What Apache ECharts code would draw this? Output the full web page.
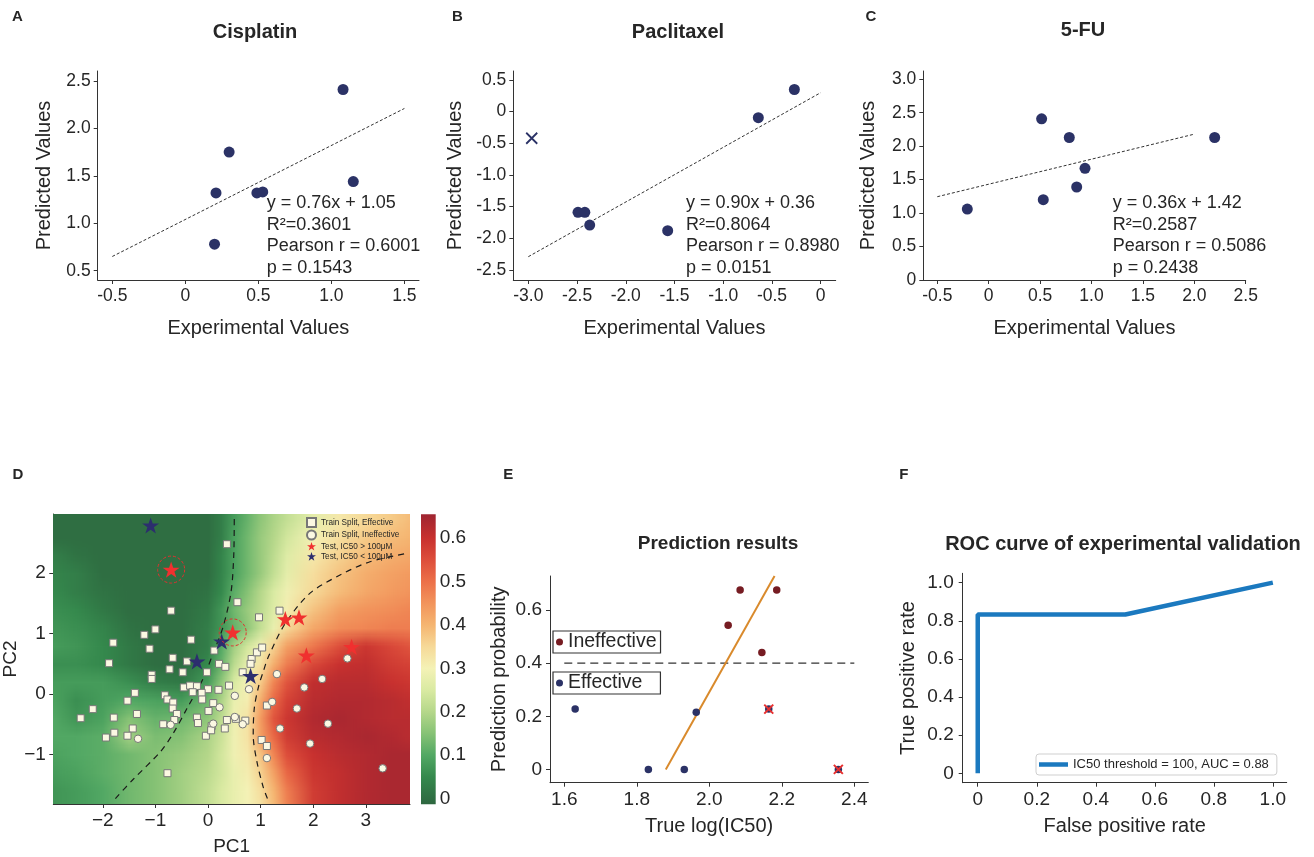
<!DOCTYPE html>
<html><head><meta charset="utf-8">
<script src="https://cdn.jsdelivr.net/npm/echarts@6/dist/echarts.min.js"></script>
<style>html,body{margin:0;padding:0;background:#fff}#c{width:1314px;height:857px}</style>
</head><body><div id="c"></div><script>
// ---------------- DATA ----------------
// Panel A: Cisplatin
const cisExp  = [1.08, 0.30, 0.21, 0.49, 0.53, 1.15, 0.20];
const cisPred = [2.41, 1.75, 1.32, 1.32, 1.33, 1.44, 0.78];
const cisFitX = [-0.5, 1.5];
const cisFitY = [0.65, 2.21];
const cisStats = ['y = 0.76x + 1.05', 'R\u00b2=0.3601', 'Pearson r = 0.6001', 'p = 0.1543'];
// Panel B: Paclitaxel
const pacExp  = [-0.27, -0.64, -2.49, -2.42, -2.37, -1.57];
const pacPred = [0.35, -0.095, -1.59, -1.59, -1.79, -1.88];
const pacOutX = [-2.965];
const pacOutY = [-0.42];
const pacFitX = [-3.0, 0.0];
const pacFitY = [-2.29, 0.30];
const pacStats = ['y = 0.90x + 0.36', 'R\u00b2=0.8064', 'Pearson r = 0.8980', 'p = 0.0151'];
// Panel C: 5-FU
const fuExp  = [0.515, 0.784, 2.198, 0.937, 0.856, 0.531, -0.208];
const fuPred = [2.41, 2.13, 2.13, 1.67, 1.39, 1.20, 1.06];
const fuFitX = [-0.5, 2.0];
const fuFitY = [1.245, 2.18];
const fuStats = ['y = 0.36x + 1.42', 'R\u00b2=0.2587', 'Pearson r = 0.5086', 'p = 0.2438'];

// Panel D: PCA map
const effX = [0.36,0.56,-0.70,0.97,1.36,-1.21,-1.00,-1.80,-1.11,-0.32,-1.88,-0.67,-0.73,-0.40,-0.48,-1.07,-1.07,0.12,0.21,0.33,-0.02,0.66,0.83,0.81,0.93,1.03,-0.46,-0.34,-0.21,-0.29,0.00,0.20,0.40,-1.39,-1.53,-2.19,-2.42,-1.35,-1.79,-1.43,-1.78,-1.53,-1.94,-0.82,-0.77,-0.66,-0.67,-0.59,-0.64,-0.85,-0.12,-0.11,0.01,0.10,-0.21,-0.19,-0.04,0.07,0.06,0.36,0.32,0.71,0.53,1.12,1.02,1.12,-0.77];
const effY = [2.48,1.52,1.38,1.27,1.38,0.98,1.07,0.85,0.75,0.90,0.51,0.60,0.41,0.54,0.36,0.32,0.25,0.72,0.50,0.45,0.36,0.36,0.58,0.50,0.69,0.77,0.11,0.14,0.13,0.03,0.08,0.07,0.14,0.02,-0.11,-0.25,-0.40,-0.33,-0.39,-0.57,-0.64,-0.69,-0.72,-0.02,-0.09,-0.14,-0.24,-0.33,-0.43,-0.50,0.02,-0.09,-0.28,-0.15,-0.39,-0.48,-0.69,-0.53,-0.60,-0.43,-0.57,-0.44,-0.41,-0.19,-0.76,-0.86,-1.31];
const ineffX = [-1.33,-0.71,0.22,0.10,0.51,0.51,0.66,0.78,1.31,1.22,1.69,1.83,2.17,1.37,2.28,1.94,1.12,3.32,2.65];
const ineffY = [-0.74,-0.51,-0.22,-0.49,-0.03,-0.38,-0.50,0.08,0.33,-0.13,-0.24,0.11,0.25,-0.57,-0.49,-0.82,-1.06,-1.23,0.59];
const hiX = [-0.70, 0.47, 1.47, 1.73, 1.87, 2.73];
const hiY = [2.06, 1.02, 1.24, 1.27, 0.64, 0.78];
const hiRinged = [0, 1];
const loX = [-1.09, 0.26, -0.21, 0.81];
const loY = [2.79, 0.87, 0.54, 0.30];
const boundL = [[-1.76,-1.73],[-1.42,-1.41],[-0.91,-0.96],[-0.66,-0.65],[-0.40,-0.24],[-0.09,0.26],[0.10,0.68],[0.29,1.12],[0.44,1.7],[0.49,2.3],[0.50,2.95]];
const boundR = [[1.13,-1.73],[1.05,-1.54],[0.93,-1.12],[0.86,-0.68],[0.88,-0.24],[0.96,0.12],[1.05,0.37],[1.15,0.62],[1.47,1.17],[1.94,1.67],[2.51,1.97],[3.08,2.19],[3.79,2.33]];
// probability field (rows = PC2 values, cols = PC1 values)
const fieldX = [-2.94,-2.5,-2.0,-1.5,-1.0,-0.5,0,0.25,0.5,0.75,1.0,1.25,1.5,2.0,2.5,3.0,3.5,3.84];
const fieldY = [2.9,2.6,2.3,2.0,1.7,1.4,1.1,0.8,0.5,0.2,-0.1,-0.4,-0.7,-1.0,-1.3,-1.6,-1.9];
const fieldV = [
 [0.00,0.00,0.00,0.00,0.00,0.00,0.00,0.03,0.08,0.12,0.16,0.19,0.22,0.27,0.32,0.35,0.37,0.39],
 [0.00,0.00,0.00,0.00,0.00,0.00,0.00,0.03,0.09,0.13,0.17,0.20,0.24,0.30,0.34,0.37,0.39,0.40],
 [0.03,0.01,0.00,0.00,0.00,0.00,0.00,0.04,0.09,0.13,0.17,0.21,0.26,0.32,0.36,0.39,0.41,0.42],
 [0.04,0.03,0.00,0.00,0.00,0.00,0.00,0.04,0.09,0.13,0.17,0.22,0.27,0.34,0.38,0.41,0.43,0.44],
 [0.05,0.03,0.01,0.00,0.00,0.00,0.01,0.05,0.11,0.15,0.20,0.25,0.29,0.35,0.39,0.42,0.44,0.45],
 [0.06,0.05,0.02,0.00,0.00,0.00,0.02,0.07,0.13,0.17,0.21,0.26,0.31,0.38,0.43,0.45,0.46,0.47],
 [0.07,0.06,0.04,0.01,0.00,0.00,0.03,0.07,0.12,0.16,0.22,0.28,0.35,0.42,0.46,0.47,0.48,0.48],
 [0.08,0.07,0.05,0.02,0.00,0.00,0.03,0.10,0.18,0.24,0.29,0.36,0.43,0.49,0.55,0.59,0.56,0.54],
 [0.06,0.06,0.05,0.02,0.00,0.00,0.05,0.12,0.21,0.28,0.33,0.41,0.48,0.56,0.60,0.61,0.58,0.57],
 [0.08,0.08,0.08,0.06,0.03,0.02,0.08,0.16,0.25,0.30,0.37,0.47,0.54,0.61,0.62,0.62,0.60,0.59],
 [0.09,0.06,0.08,0.10,0.09,0.08,0.13,0.19,0.28,0.31,0.41,0.51,0.57,0.62,0.63,0.63,0.62,0.61],
 [0.10,0.07,0.09,0.15,0.12,0.13,0.16,0.21,0.29,0.33,0.44,0.54,0.59,0.63,0.64,0.63,0.62,0.62],
 [0.10,0.10,0.11,0.18,0.14,0.15,0.19,0.23,0.29,0.33,0.43,0.51,0.58,0.62,0.63,0.64,0.63,0.62],
 [0.09,0.10,0.11,0.13,0.15,0.17,0.20,0.24,0.29,0.32,0.38,0.47,0.55,0.60,0.62,0.63,0.64,0.64],
 [0.08,0.09,0.11,0.13,0.15,0.18,0.21,0.24,0.28,0.31,0.36,0.43,0.51,0.59,0.61,0.63,0.64,0.64],
 [0.07,0.08,0.10,0.13,0.15,0.18,0.22,0.25,0.28,0.30,0.34,0.40,0.48,0.58,0.61,0.63,0.64,0.64],
 [0.07,0.08,0.10,0.13,0.15,0.18,0.22,0.25,0.28,0.30,0.33,0.39,0.47,0.58,0.61,0.63,0.64,0.64]
];
const cbTicks = [0, 0.1, 0.2, 0.3, 0.4, 0.5, 0.6];
const cbRange = [-0.013, 0.655];

// Panel E: prediction results
const inefX = [2.085, 2.186, 2.052, 2.145];
const inefY = [0.675, 0.675, 0.543, 0.44];
const efX = [1.63, 1.964, 1.832, 1.931, 2.164, 2.356];
const efY = [0.227, 0.215, 0, 0, 0.227, 0];
const missX = [2.164, 2.356];
const missY = [0.227, 0];
const trendX = [1.88, 2.18];
const trendY = [0, 0.728];
const threshX = [1.6, 2.4];
const threshY = [0.4, 0.4];

// Panel F: ROC
const rocFpr = [0, 0, 0.5, 1];
const rocTpr = [0, 0.833, 0.833, 1];

// ---------------- STYLE ----------------
const FONT = '"Liberation Sans", Arial, Helvetica, sans-serif';
const TXT = '#262626';
const NAVY = '#2b3266';
const STAR = 'path://M12,0.5 L14.8,8.9 L23.5,8.9 L16.4,14 L19.1,22.4 L12,17.3 L4.9,22.4 L7.6,14 L0.5,8.9 L9.2,8.9 Z';
const CROSS = 'path://M0,0 L10,10 M10,0 L0,10';
const cmapStops = [[-0.013,'#2e6640'],[0,'#2f6e42'],[0.05,'#35894d'],[0.1,'#52a864'],[0.15,'#86c275'],[0.2,'#b5d78a'],[0.25,'#d9eaa2'],[0.3,'#f4f2b6'],[0.35,'#f6d998'],[0.4,'#f5b571'],[0.45,'#f2945c'],[0.5,'#ec7049'],[0.55,'#dd4e3b'],[0.6,'#c8312f'],[0.655,'#9f2531']];

function pairs(xs, ys) { return xs.map((x, i) => [x, ys[i]]); }
function hex(h) { return [parseInt(h.slice(1,3),16), parseInt(h.slice(3,5),16), parseInt(h.slice(5,7),16)]; }
function cmap(v) {
  const s = cmapStops;
  if (v <= s[0][0]) return s[0][1];
  for (let i = 1; i < s.length; i++) {
    if (v <= s[i][0]) {
      const t = (v - s[i-1][0]) / (s[i][0] - s[i-1][0]);
      const a = hex(s[i-1][1]), b = hex(s[i][1]);
      return 'rgb(' + a.map((c, k) => Math.round(c + (b[k] - c) * t)).join(',') + ')';
    }
  }
  return s[s.length-1][1];
}
const f1 = v => Math.abs(v) < 1e-9 ? '0' : v.toFixed(1);
const fMinus = v => v < 0 ? '\u2212' + Math.abs(v) : String(v);
function range(a, b, st) { const r = []; for (let v = a; v <= b + 1e-9; v += st) r.push(Math.round(v * 1000) / 1000); return r; }

// raster of the read field: one canvas row per fieldY row, colour stops at fieldX positions
function fieldCanvas() {
  const W = 680, H = fieldY.length;
  const cv = document.createElement('canvas'); cv.width = W; cv.height = H;
  const ctx = cv.getContext('2d');
  const span = fieldX[fieldX.length - 1] - fieldX[0];
  fieldV.forEach((row, r) => {
    const g = ctx.createLinearGradient(0, 0, W, 0);
    fieldX.forEach((x, k) => g.addColorStop((x - fieldX[0]) / span, cmap(row[k])));
    ctx.fillStyle = g; ctx.fillRect(0, r, W, 1);
  });
  return cv;
}
const FIELD_IMG = fieldCanvas();

function axis(o) {
  return {
    type: 'value', gridIndex: o.g, min: o.min, max: o.max, position: o.pos,
    show: o.show !== false,
    name: o.name || '', nameLocation: 'middle', nameGap: o.gap || 30,
    nameTextStyle: { color: TXT, fontFamily: FONT, fontSize: o.nameSize || 20 },
    axisLine: { show: o.line !== false, onZero: false, lineStyle: { color: '#333', width: 1 } },
    axisTick: { show: o.tick !== false, length: 4, lineStyle: { color: '#333', width: 1 }, customValues: o.ticks },
    axisLabel: { show: true, customValues: o.ticks, formatter: o.fmt || f1, color: TXT, fontFamily: FONT, fontSize: o.size || 17.5, margin: o.margin || 7 },
    splitLine: { show: false }
  };
}

const grids = [
  { left: 97.7, top: 71, width: 321.3, height: 209 },   // A
  { left: 513.3, top: 71, width: 322.4, height: 209 },  // B
  { left: 923.3, top: 71, width: 322.4, height: 209 },  // C
  { left: 53.3, top: 514, width: 356.7, height: 290 },  // D
  { left: 421, top: 514.3, width: 14.7, height: 290 },  // colorbar
  { left: 550, top: 576, width: 318.3, height: 206.7 }, // E
  { left: 962.7, top: 573.3, width: 324, height: 209.4 } // F
];

const xAxes = [
  axis({ g: 0, min: -0.6, max: 1.6, ticks: range(-0.5, 1.5, 0.5), name: 'Experimental Values', gap: 38 }),
  axis({ g: 1, min: -3.154, max: 0.154, ticks: range(-3, 0, 0.5), name: 'Experimental Values', gap: 38 }),
  axis({ g: 2, min: -0.636, max: 2.5, ticks: range(-0.5, 2.5, 0.5), name: 'Experimental Values', gap: 38 }),
  axis({ g: 3, min: -2.94, max: 3.84, ticks: range(-2, 3, 1), fmt: fMinus, name: 'PC1', gap: 33, size: 19, nameSize: 19 }),
  axis({ g: 4, min: 0, max: 1, ticks: [], show: false }),
  axis({ g: 5, min: 1.5606, max: 2.4386, ticks: range(1.6, 2.4, 0.2), name: 'True log(IC50)', gap: 34, size: 19, margin: 8 }),
  axis({ g: 6, min: -0.051, max: 1.047, ticks: range(0, 1, 0.2), name: 'False positive rate', gap: 34, size: 19, margin: 8 })
];
const yAxes = [
  axis({ g: 0, min: 0.402, max: 2.605, ticks: range(0.5, 2.5, 0.5), name: 'Predicted Values', gap: 43 }),
  axis({ g: 1, min: -2.658, max: 0.642, ticks: range(-2.5, 0.5, 0.5), name: 'Predicted Values', gap: 48 }),
  axis({ g: 2, min: 0, max: 3.124, ticks: range(0, 3, 0.5), name: 'Predicted Values', gap: 45 }),
  axis({ g: 3, min: -1.82, max: 2.98, ticks: range(-1, 2, 1), fmt: fMinus, name: 'PC2', gap: 25, size: 19, nameSize: 19, margin: 7.5 }),
  axis({ g: 4, min: cbRange[0], max: cbRange[1], ticks: cbTicks, pos: 'right', line: false, tick: false, size: 19, margin: 4 }),
  axis({ g: 5, min: -0.05, max: 0.728, ticks: range(0, 0.6, 0.2), name: 'Prediction probability', gap: 41, size: 19, margin: 8 }),
  axis({ g: 6, min: -0.049, max: 1.049, ticks: range(0, 1, 0.2), name: 'True positive rate', gap: 44, size: 19, margin: 9 })
];

const dash = (c, w, t) => ({ color: c, width: w, type: t });
const series = [];
function add(s) { s.silent = true; series.push(s); }
const solid = c => ({ color: c, opacity: 1 });
// A-C
[[0, cisExp, cisPred, cisFitX, cisFitY], [1, pacExp, pacPred, pacFitX, pacFitY], [2, fuExp, fuPred, fuFitX, fuFitY]].forEach(([g, xs, ys, fx, fy]) => {
  add({ type: 'line', xAxisIndex: g, yAxisIndex: g, data: pairs(fx, fy), symbol: 'none', lineStyle: dash('#333', 1, [3, 2]), z: 2 });
  add({ type: 'scatter', xAxisIndex: g, yAxisIndex: g, data: pairs(xs, ys), symbolSize: 11, itemStyle: solid(NAVY), z: 3 });
});
add({ type: 'scatter', xAxisIndex: 1, yAxisIndex: 1, data: pairs(pacOutX, pacOutY), symbol: CROSS, symbolSize: 11,
  itemStyle: { color: 'transparent', borderColor: NAVY, borderWidth: 1.8, opacity: 1 }, z: 3 });

// D field (read values, rasterised and placed through the axes)
add({ type: 'custom', xAxisIndex: 3, yAxisIndex: 3, clip: true, z: 1,
  data: [[fieldX[0], fieldY[0]]],
  renderItem: function (params, api) {
    const half = (fieldY[0] - fieldY[1]) / 2;
    const p0 = api.coord([fieldX[0], fieldY[0] + half]);
    const p1 = api.coord([fieldX[fieldX.length - 1], fieldY[fieldY.length - 1] - half]);
    return { type: 'image', style: { image: FIELD_IMG, x: p0[0], y: p0[1], width: p1[0] - p0[0], height: p1[1] - p0[1] } };
  }
});
// colorbar
add({ type: 'custom', xAxisIndex: 4, yAxisIndex: 4, clip: false, z: 1,
  data: [[0, cbRange[0]]],
  renderItem: function (params, api) {
    const p0 = api.coord([0, cbRange[1]]);
    const p1 = api.coord([1, cbRange[0]]);
    const span = cbRange[1] - cbRange[0];
    const stops = cmapStops.map(s => ({ offset: (s[0] - cbRange[0]) / span, color: s[1] }));
    return { type: 'rect', shape: { x: p0[0], y: p0[1], width: p1[0] - p0[0], height: p1[1] - p0[1] },
      style: { fill: { type: 'linear', x: 0, y: 1, x2: 0, y2: 0, colorStops: stops } } };
  }
});
add({ type: 'line', xAxisIndex: 3, yAxisIndex: 3, data: boundL, smooth: 0.3, symbol: 'none', lineStyle: dash('#1a1a1a', 1.2, [6, 5]), z: 3 });
add({ type: 'line', xAxisIndex: 3, yAxisIndex: 3, data: boundR, smooth: 0.3, symbol: 'none', lineStyle: dash('#1a1a1a', 1.2, [6, 5]), z: 3 });
const cream = { color: '#fbf8e2', borderColor: '#777', borderWidth: 1, opacity: 1 };
add({ name: 'Train Split, Effective', type: 'scatter', xAxisIndex: 3, yAxisIndex: 3, data: pairs(effX, effY), symbol: 'rect', symbolSize: 7, itemStyle: cream, z: 4 });
add({ name: 'Train Split, Ineffective', type: 'scatter', xAxisIndex: 3, yAxisIndex: 3, data: pairs(ineffX, ineffY), symbol: 'circle', symbolSize: 7.5, itemStyle: cream, z: 4 });
add({ name: 'Test, IC50 > 100\u03bcM', type: 'scatter', xAxisIndex: 3, yAxisIndex: 3, data: pairs(hiX, hiY), symbol: STAR, symbolKeepAspect: true, symbolSize: 17, itemStyle: solid('#f0302f'), z: 5 });
add({ name: 'Test, IC50 < 100\u03bcM', type: 'scatter', xAxisIndex: 3, yAxisIndex: 3, data: pairs(loX, loY), symbol: STAR, symbolKeepAspect: true, symbolSize: 17, itemStyle: solid('#2c2e6e'), z: 5 });
add({ type: 'scatter', xAxisIndex: 3, yAxisIndex: 3, data: hiRinged.map(i => [hiX[i], hiY[i]]), symbol: 'circle', symbolSize: 27,
  itemStyle: { color: 'transparent', borderColor: '#e2302f', borderWidth: 1, borderType: [3, 2], opacity: 1 }, z: 5 });

// E
add({ type: 'line', xAxisIndex: 5, yAxisIndex: 5, data: pairs(threshX, threshY), symbol: 'none', lineStyle: dash('#333', 1.2, [8, 5]), z: 2 });
add({ type: 'line', xAxisIndex: 5, yAxisIndex: 5, data: pairs(trendX, trendY), symbol: 'none', lineStyle: dash('#d98a2c', 2, 'solid'), z: 2 });
add({ name: 'Ineffective', type: 'scatter', xAxisIndex: 5, yAxisIndex: 5, data: pairs(inefX, inefY), symbolSize: 7.5, itemStyle: solid('#761c22'), z: 3 });
add({ name: 'Effective', type: 'scatter', xAxisIndex: 5, yAxisIndex: 5, data: pairs(efX, efY), symbolSize: 7.5, itemStyle: solid(NAVY), z: 3 });
add({ type: 'scatter', xAxisIndex: 5, yAxisIndex: 5, data: pairs(missX, missY), symbol: CROSS, symbolSize: 9,
  itemStyle: { color: 'transparent', borderColor: '#e8302f', borderWidth: 2, opacity: 1 }, z: 4 });

// F
add({ name: 'IC50 threshold = 100, AUC = 0.88', type: 'line', xAxisIndex: 6, yAxisIndex: 6, data: pairs(rocFpr, rocTpr), symbol: 'none',
  color: '#1b79bf', itemStyle: { color: '#1b79bf' }, lineStyle: { color: '#1b79bf', width: 4.5 }, z: 3 });

const legTxt = (s) => ({ color: TXT, fontFamily: FONT, fontSize: s });
const legend = [
  { data: ['Train Split, Effective', 'Train Split, Ineffective', 'Test, IC50 > 100\u03bcM', 'Test, IC50 < 100\u03bcM'],
    orient: 'vertical', left: 306, top: 517, padding: 0, itemWidth: 9, itemHeight: 9, itemGap: 1.5, selectedMode: false,
    textStyle: legTxt(8.2) },
  { data: ['Ineffective'], left: 553, top: 631, padding: [1, 4, 1, 3], itemWidth: 7, itemHeight: 7, selectedMode: false,
    borderColor: '#333', borderWidth: 1.2, textStyle: legTxt(19.5) },
  { data: ['Effective'], left: 553, top: 672, padding: [1, 18, 1, 3], itemWidth: 7, itemHeight: 7, selectedMode: false,
    borderColor: '#333', borderWidth: 1.2, textStyle: legTxt(19.5) },
  { data: [{ name: 'IC50 threshold = 100, AUC = 0.88', icon: 'rect' }], left: 1036, top: 754, padding: [4, 8, 4, 3], itemWidth: 29, itemHeight: 4.5,
    selectedMode: false, borderColor: '#cfcfcf', borderWidth: 1, borderRadius: 3, textStyle: legTxt(13) }
];

const gtext = (t, x, y, size, bold, align) => ({ type: 'text', silent: true, z: 10, x: x, y: y,
  style: { text: t, fill: TXT, font: (bold ? 'bold ' : '') + size + 'px ' + FONT, textAlign: align || 'center', textVerticalAlign: 'middle' } });
const graphic = [
  gtext('A', 17.5, 17.2, 15, true), gtext('B', 457.5, 17.2, 15, true), gtext('C', 871, 17.2, 15, true),
  gtext('D', 18, 474.7, 15, true), gtext('E', 508.3, 474.7, 15, true), gtext('F', 903.8, 474.7, 15, true),
  gtext('Cisplatin', 255, 32, 20, true), gtext('Paclitaxel', 678, 32, 20, true), gtext('5-FU', 1083, 30.5, 20, true),
  gtext('Prediction results', 718, 544, 19, true), gtext('ROC curve of experimental validation', 1123, 544, 20, true)
];
const statY = [203.3, 224.8, 246.3, 267.8];
[[cisStats, 266.7], [pacStats, 686], [fuStats, 1112.7]].forEach(([lines, x]) => {
  lines.forEach((t, i) => graphic.push(gtext(t, x, statY[i], 18, false, 'left')));
});

const chart = echarts.init(document.getElementById('c'), null, { renderer: 'canvas' });
chart.setOption({
  backgroundColor: '#ffffff', animation: false, textStyle: { fontFamily: FONT },
  grid: grids, xAxis: xAxes, yAxis: yAxes, series: series, legend: legend, graphic: graphic
});
</script></body></html>
